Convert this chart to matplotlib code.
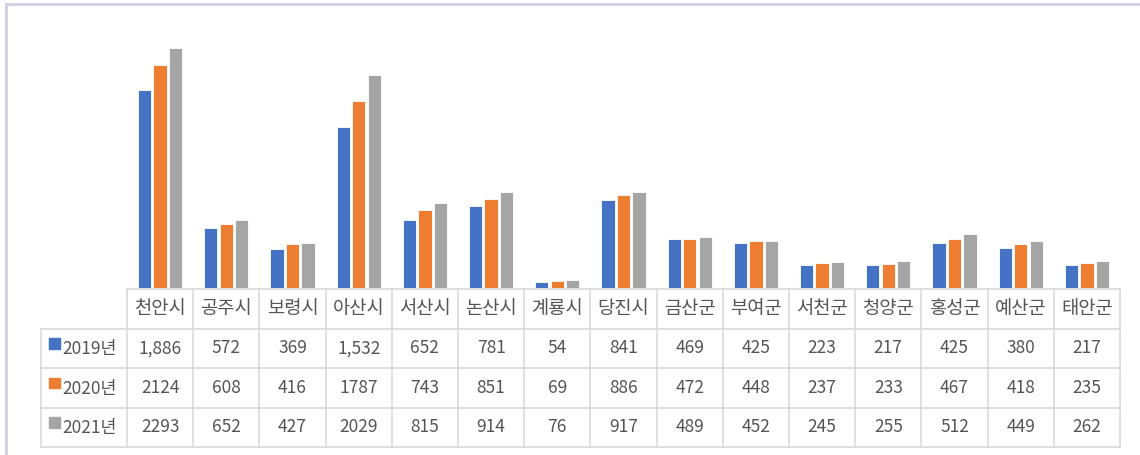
import numpy as np
import matplotlib.pyplot as plt
from matplotlib.patches import Rectangle
from matplotlib.lines import Line2D

plt.rcParams['font.family'] = ['Noto Sans CJK KR', 'DejaVu Sans']

# 데이터
regions = ['천안시', '공주시', '보령시', '아산시', '서산시', '논산시', '계룡시', '당진시',
           '금산군', '부여군', '서천군', '청양군', '홍성군', '예산군', '태안군']
years = ['2019년', '2020년', '2021년']
v2019 = [1886, 572, 369, 1532, 652, 781, 54, 841, 469, 425, 223, 217, 425, 380, 217]
v2020 = [2124, 608, 416, 1787, 743, 851, 69, 886, 472, 448, 237, 233, 467, 418, 235]
v2021 = [2293, 652, 427, 2029, 815, 914, 76, 917, 489, 452, 245, 255, 512, 449, 262]
colors = ['#4472C4', '#ED7D31', '#A5A5A5']

W, H = 1140, 455
fig = plt.figure(figsize=(W / 100, H / 100), dpi=100)


def box(x0, y0, x1, y1):
    # 픽셀 좌표 -> figure 비율
    return [x0 / W, 1 - y1 / H, (x1 - x0) / W, (y1 - y0) / H]


# 막대 그래프
ax = fig.add_axes(box(127, 26, 1120, 288))
x = np.arange(len(regions))
bw = 0.2
step = 0.235
for i, vals in enumerate([v2019, v2020, v2021]):
    ax.bar(x + (i - 1) * step, vals, width=bw, color=colors[i],
           edgecolor='white', linewidth=0.6)
ax.set_xlim(-0.5, len(regions) - 0.5)
ax.set_ylim(0, 2500)
ax.axis('off')

# 데이터 표
tx = fig.add_axes(box(127, 289, 1120, 447))
tx.set_xlim(-0.5, len(regions) - 0.5)
tx.set_ylim(4, 0)
tx.axis('off')

gc = '#D9D9D9'
tc = '#555555'
colw = 993 / len(regions)
left = -0.5 - 86 / colw

# 세로선
for k in range(len(regions) + 1):
    tx.plot([k - 0.5, k - 0.5], [0, 4], color=gc, lw=1.2, clip_on=False)
tx.plot([left, left], [1, 4], color=gc, lw=1.2, clip_on=False)
# 가로선
tx.plot([-0.5, len(regions) - 0.5], [0, 0], color=gc, lw=1.2, clip_on=False)
for r in range(1, 5):
    tx.plot([left, len(regions) - 0.5], [r, r], color=gc, lw=1.2, clip_on=False)

for j, name in enumerate(regions):
    tx.text(j, 0.5, name, ha='center', va='center', fontsize=13.5, color=tc)

rows = [[f'{v:,}' for v in v2019], [str(v) for v in v2020], [str(v) for v in v2021]]
for r, labels in enumerate(rows):
    for j, s in enumerate(labels):
        tx.text(j, r + 1.5, s, ha='center', va='center', fontsize=12.5, color=tc)
    sq_x = -0.5 - (127 - 49) / colw
    tx.add_patch(Rectangle((sq_x, r + 1.25), 11 / colw, 0.26, color=colors[r],
                           clip_on=False))
    tx.text(-0.5 - (127 - 62) / colw, r + 1.52, years[r], ha='left', va='center',
            fontsize=12.5, color=tc, clip_on=False)

# 차트 테두리
bc = '#D3CEE3'
fig.add_artist(Line2D([6 / W, 1], [1 - 4 / H, 1 - 4 / H], color=bc, lw=2))
fig.add_artist(Line2D([6 / W, 6 / W], [0, 1 - 4 / H], color=bc, lw=2))

fig.savefig('out.png', dpi=100, facecolor='white')
